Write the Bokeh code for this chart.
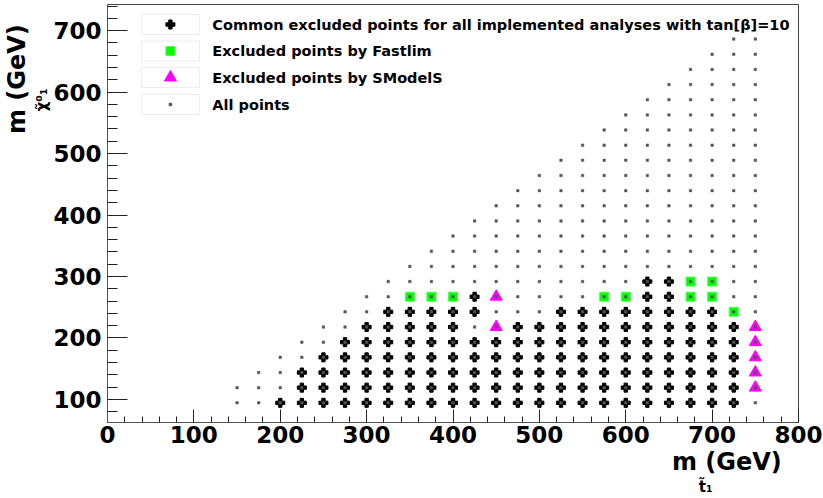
from bokeh.plotting import figure
from bokeh.models import Range1d, SingleIntervalTicker, Label, Title
from bokeh.embed import file_html
from bokeh.resources import INLINE

# ---------------- data ----------------
# stop mass columns (GeV)
M_STOP = [150, 175, 200, 225, 250, 275, 300, 325, 350, 375, 400, 425, 450,
          475, 500, 525, 550, 575, 600, 625, 650, 675, 700, 725, 750]
# neutralino mass rows (GeV)
M_CHI = [94.5, 119.2, 143.8, 168.5, 193.2, 217.8, 242.5, 267.1, 291.8, 316.4,
         341.1, 365.7, 390.4, 415.0, 439.7, 464.3, 489.0, 513.6, 538.3, 562.9,
         587.6, 612.2, 636.9, 661.5, 686.2]
# number of scanned points in each stop column
N_POINTS = [2, 3, 4, 5, 6, 7, 8, 9, 10, 11, 12, 13, 14,
            15, 16, 17, 18, 19, 20, 21, 22, 23, 24, 25, 25]
# rows (index into M_CHI) excluded by all analyses, per stop column
COMMON_ROWS = [[], [], [0], [0, 1, 2], [0, 1, 2, 3], [0, 1, 2, 3, 4],
               [0, 1, 2, 3, 4, 5], [0, 1, 2, 3, 4, 5, 6], [0, 1, 2, 3, 4, 5, 6],
               [0, 1, 2, 3, 4, 5, 6], [0, 1, 2, 3, 4, 5, 6], [0, 1, 2, 3, 4, 6, 7],
               [0, 1, 2, 3, 4], [0, 1, 2, 3, 4, 5], [0, 1, 2, 3, 4, 5],
               [0, 1, 2, 3, 4, 5, 6], [0, 1, 2, 3, 4, 5, 6], [0, 1, 2, 3, 4, 5, 6],
               [0, 1, 2, 3, 4, 5, 6], [0, 1, 2, 3, 4, 5, 6, 7, 8],
               [0, 1, 2, 3, 4, 5, 6, 7, 8], [0, 1, 2, 3, 4, 5, 6],
               [0, 1, 2, 3, 4, 5, 6], [0, 1, 2, 3, 4, 5], []]
# extra points excluded by Fastlim
FASTLIM_X = [350, 375, 400, 575, 600, 675, 675, 700, 700, 725]
FASTLIM_Y = [267.1, 267.1, 267.1, 267.1, 267.1, 267.1, 291.8, 267.1, 291.8, 242.5]
# extra points excluded by SModelS
SMODELS_X = [450, 450, 750, 750, 750, 750, 750]
SMODELS_Y = [217.8, 267.1, 119.2, 143.8, 168.5, 193.2, 217.8]

LEGEND_LABELS = ["Common excluded points for all implemented analyses with tan[\u03b2]=10",
                 "Excluded points by Fastlim",
                 "Excluded points by SModelS",
                 "All points"]
X_TITLE_MAIN = "m   (GeV)"
X_TITLE_SUB = "t\u0303\u2081"
Y_TITLE_MAIN = "m   (GeV)"
Y_TITLE_SUB = "\u03c7\u0303\u2070\u2081"

# ---------------- build point sets ----------------
all_x, all_y = [], []
for xs, n in zip(M_STOP, N_POINTS):
    for k in range(n):
        all_x.append(xs)
        all_y.append(M_CHI[k])
com_x, com_y = [], []
for xs, rows in zip(M_STOP, COMMON_ROWS):
    for k in rows:
        com_x.append(xs)
        com_y.append(M_CHI[k])

# ---------------- layout ----------------
W, H = 823, 498
L, R, T, B = 106, 798, 4, 422
X0, X1 = 0, 800
Y0, Y1 = 62.5, 742.5


def dx(px):
    return X0 + (px - L) / (R - L) * (X1 - X0)


def dy(py):
    return Y0 + (B - py) / (B - T) * (Y1 - Y0)


FONT = "DejaVu Sans"

p = figure(width=W, height=H, output_backend="svg", toolbar_location=None,
           x_range=Range1d(X0, X1), y_range=Range1d(Y0, Y1),
           min_border_left=L, min_border_right=W - R,
           min_border_top=T, min_border_bottom=H - B)
p.background_fill_color = "white"
p.border_fill_color = "white"
p.outline_line_color = "#444444"
p.outline_line_width = 1
p.grid.visible = False

for ax, maj, mnr in ((p.xaxis, 13, 6), (p.yaxis, 20, 10)):
    ax.ticker = SingleIntervalTicker(interval=100, num_minor_ticks=5)
    ax.major_tick_in = maj
    ax.major_tick_out = 0
    ax.minor_tick_in = mnr
    ax.minor_tick_out = 0
    ax.axis_line_color = "#555555"
    ax.major_tick_line_color = "#222222"
    ax.minor_tick_line_color = "#222222"
    ax.major_label_text_font = FONT
    ax.major_label_text_font_style = "bold"
    ax.major_label_text_font_size = "23px"
    ax.major_label_text_color = "black"
p.xaxis.major_label_standoff = 3
p.yaxis.major_label_standoff = 6

# ---------------- axis titles (side-panel titles) ----------------
p.add_layout(Title(text=X_TITLE_MAIN, align="right", offset=0, standoff=0,
                   text_font=FONT, text_font_style="bold", text_font_size="24px",
                   text_color="black"), "below")
p.add_layout(Title(text=X_TITLE_SUB, align="right", offset=86, standoff=0,
                   text_font=FONT, text_font_style="bold", text_font_size="15px",
                   text_color="black"), "below")
p.add_layout(Title(text=Y_TITLE_SUB, align="right", offset=84, standoff=0,
                   text_font=FONT, text_font_style="bold", text_font_size="15px",
                   text_color="black"), "left")
p.add_layout(Title(text=Y_TITLE_MAIN, align="right", offset=3, standoff=0,
                   text_font=FONT, text_font_style="bold", text_font_size="24px",
                   text_color="black"), "left")

# ---------------- data markers ----------------
p.scatter(com_x, com_y, marker="plus", size=9, fill_color="black", line_color="black")
p.scatter(FASTLIM_X, FASTLIM_Y, marker="square", size=9, fill_color="#00ff00",
          line_color="#55ff55", line_width=1)
p.scatter(SMODELS_X, SMODELS_Y, marker="triangle", size=12, fill_color="#ff00ff",
          line_color="#ff00ff")
p.scatter(all_x, all_y, marker="square", size=2.5, fill_color="#555555",
          line_color="#555555", line_width=0.5)

# ---------------- legend ----------------
ROWS_PX = [24, 50.5, 77, 104]
KEY_X = dx(169)
p.rect([KEY_X] * 4, [dy(r) for r in ROWS_PX], width=58, height=20,
       width_units="screen", height_units="screen", fill_alpha=0,
       line_color="#ececec", line_width=1)
p.scatter([KEY_X], [dy(ROWS_PX[0])], marker="plus", size=9, fill_color="black", line_color="black")
p.scatter([KEY_X], [dy(ROWS_PX[1])], marker="square", size=9, fill_color="#00ff00",
          line_color="#55ff55")
p.scatter([KEY_X], [dy(ROWS_PX[2])], marker="triangle", size=12, fill_color="#ff00ff",
          line_color="#ff00ff")
p.scatter([KEY_X], [dy(ROWS_PX[3])], marker="square", size=2.5, fill_color="#555555",
          line_color="#555555")
for txt, r in zip(LEGEND_LABELS, ROWS_PX):
    p.add_layout(Label(x=dx(211), y=dy(r), text=txt, text_font=FONT,
                       text_font_style="bold", text_font_size="14.5px",
                       text_baseline="middle", text_align="left", text_color="black"))

open("out.html", "w").write(file_html(p, INLINE))
